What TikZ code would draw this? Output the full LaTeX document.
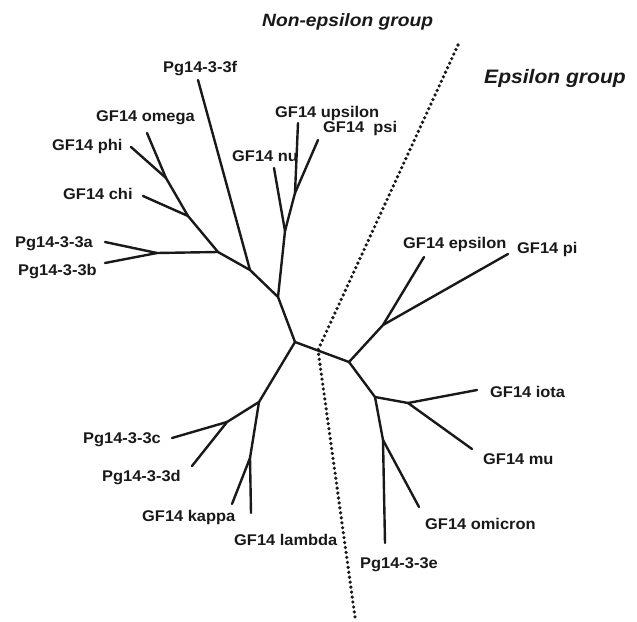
\documentclass[tikz,border=0pt]{standalone}
\usepackage{fontspec}
\newfontfamily\labfont{Liberation Sans}[FakeStretch=1.06]
\newfontfamily\grpfont{Liberation Sans}[FakeStretch=1.08]
\begin{document}
\begin{tikzpicture}[x=1pt,y=-1pt,
  branch/.style={line width=2.4pt,line cap=round,line join=round,black!90},
  leaf/.style={anchor=base west,inner sep=0pt,font=\labfont\bfseries\fontsize{15.5}{18}\selectfont,text=black!90},
  grouplab/.style={anchor=base west,inner sep=0pt,text=black!90},
  divider/.style={line width=3.6pt,line cap=round,dash pattern=on 0pt off 5pt,black!90}]
\useasboundingbox (0,0) rectangle (637,621);

% internal branch points
\coordinate (r) at (295,342);
\coordinate (a) at (278,297);
\coordinate (b) at (250,270);
\coordinate (c) at (218,252);
\coordinate (d) at (188,216);
\coordinate (e) at (166,178);
\coordinate (f) at (285,231);
\coordinate (g) at (295,193);
\coordinate (h) at (157,253);
\coordinate (k) at (349,362);
\coordinate (m) at (383,325);
\coordinate (n) at (375,397);
\coordinate (o) at (408,403);
\coordinate (p) at (383,440);
\coordinate (q) at (259,402);
\coordinate (s) at (227,422);
\coordinate (t) at (250,458);

% leaf tips
\coordinate (t3f) at (198,80);
\coordinate (tomega) at (147,133);
\coordinate (tphi) at (131,147);
\coordinate (tchi) at (143,196);
\coordinate (t3a) at (105,242);
\coordinate (t3b) at (105,263);
\coordinate (tnu) at (274,168);
\coordinate (tupsilon) at (298,123);
\coordinate (tpsi) at (318,140);
\coordinate (tepsilon) at (424,257);
\coordinate (tpi) at (508,254);
\coordinate (tiota) at (477,390);
\coordinate (tmu) at (472,449);
\coordinate (tomicron) at (419,507);
\coordinate (t3e) at (385,543);
\coordinate (t3c) at (172,438);
\coordinate (t3d) at (192,466);
\coordinate (tkappa) at (232,504);
\coordinate (tlambda) at (251,513);

% tree branches
\draw[branch] (r) -- (a) -- (b) -- (c) -- (d) -- (e);
\draw[branch] (e) -- (tomega);
\draw[branch] (e) -- (tphi);
\draw[branch] (d) -- (tchi);
\draw[branch] (c) -- (h);
\draw[branch] (h) -- (t3a);
\draw[branch] (h) -- (t3b);
\draw[branch] (b) -- (t3f);
\draw[branch] (a) -- (f) -- (g);
\draw[branch] (f) -- (tnu);
\draw[branch] (g) -- (tupsilon);
\draw[branch] (g) -- (tpsi);
\draw[branch] (r) -- (k);
\draw[branch] (k) -- (m);
\draw[branch] (m) -- (tepsilon);
\draw[branch] (m) -- (tpi);
\draw[branch] (k) -- (n) -- (o);
\draw[branch] (o) -- (tiota);
\draw[branch] (o) -- (tmu);
\draw[branch] (n) -- (p);
\draw[branch] (p) -- (tomicron);
\draw[branch] (p) -- (t3e);
\draw[branch] (r) -- (q) -- (s);
\draw[branch] (s) -- (t3c);
\draw[branch] (s) -- (t3d);
\draw[branch] (q) -- (t);
\draw[branch] (t) -- (tkappa);
\draw[branch] (t) -- (tlambda);

% group divider
\coordinate (dtop) at (458,45);
\coordinate (dmid) at (318,350);
\coordinate (dbot) at (355,617);
\draw[divider] (dtop) -- (dmid) -- (dbot);

% leaf labels
\node[leaf] (l3f) at (163,72.5) {Pg14-3-3f};
\node[leaf] (lomega) at (96,121.5) {GF14 omega};
\node[leaf] (lphi) at (52,150) {GF14 phi};
\node[leaf] (lchi) at (63,199) {GF14 chi};
\node[leaf] (l3a) at (15,247) {Pg14-3-3a};
\node[leaf] (l3b) at (18,275) {Pg14-3-3b};
\node[leaf] (lnu) at (232,161) {GF14 nu};
\node[leaf] (lupsilon) at (275,117) {GF14 upsilon};
\node[leaf] (lpsi) at (323,132) {GF14\ \ psi};
\node[leaf] (lepsilon) at (403,248) {GF14 epsilon};
\node[leaf] (lpi) at (517,253) {GF14 pi};
\node[leaf] (liota) at (490,397) {GF14 iota};
\node[leaf] (lmu) at (483,464) {GF14 mu};
\node[leaf] (lomicron) at (425,529) {GF14 omicron};
\node[leaf] (l3e) at (360,568) {Pg14-3-3e};
\node[leaf] (l3c) at (83,443) {Pg14-3-3c};
\node[leaf] (l3d) at (102,481) {Pg14-3-3d};
\node[leaf] (lkappa) at (142,521) {GF14 kappa};
\node[leaf] (llambda) at (234,545) {GF14 lambda};

% group titles
\node[grouplab,font=\grpfont\bfseries\itshape\fontsize{17.8}{21}\selectfont] (gnon) at (262,27) {Non-epsilon group};
\node[grouplab,font=\grpfont\bfseries\itshape\fontsize{19.5}{23}\selectfont] (geps) at (484,83) {Epsilon group};
\end{tikzpicture}
\end{document}
